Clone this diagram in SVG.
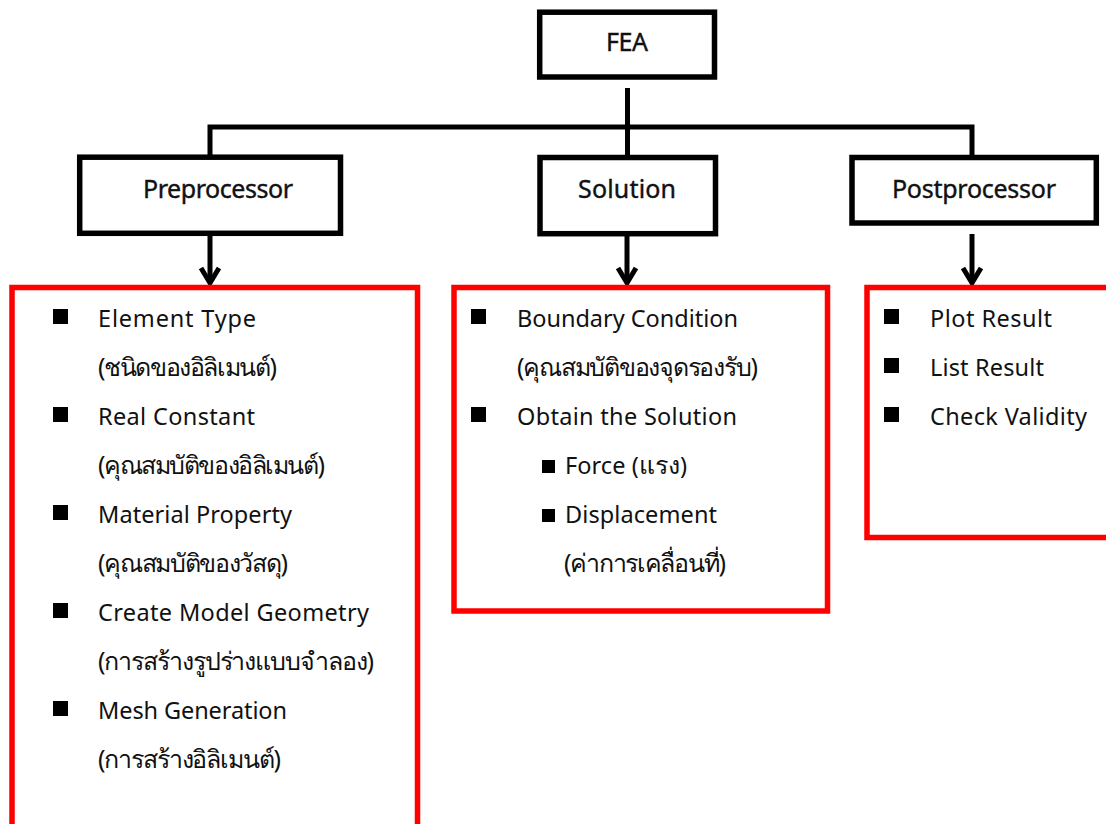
<svg xmlns="http://www.w3.org/2000/svg" width="1106" height="824" viewBox="0 0 1106 824">
<style>
.box{fill:#fff;stroke:#000;stroke-width:5.5}
.red{fill:none;stroke:#f00;stroke-width:5.5}
.hd{font-family:"Noto Sans","Liberation Sans",sans-serif;font-size:25px;fill:#111;stroke:#111;stroke-width:0.4}
.t{font-family:"Noto Sans","Liberation Sans",sans-serif;font-size:23.5px;fill:#111}
.th{font-size:25px}
.b{fill:#000}
.ln{fill:none;stroke:#000;stroke-width:5}
</style>
<defs>
<marker id="arr" markerUnits="userSpaceOnUse" orient="auto" markerWidth="30" markerHeight="30" refX="0" refY="0" viewBox="-20 -15 30 30" overflow="visible">
<path d="M-15,-9 L0,0 L-15,9" fill="none" stroke="#000" stroke-width="5"/>
</marker>
</defs>
<g id="connectors">
<path class="ln" d="M627.5,88 V157"/>
<path class="ln" d="M210,157 V127 H972 V157"/>
<path class="ln" d="M210,236 V283" marker-end="url(#arr)"/>
<path class="ln" d="M627,236 V283" marker-end="url(#arr)"/>
<path class="ln" d="M972,234 V283" marker-end="url(#arr)"/>
</g>
<g id="fea">
<rect class="box" x="539.7" y="12.2" width="174.8" height="64.8"/>
<text class="hd" x="606" y="51" textLength="42">FEA</text>
</g>
<g id="preprocessor">
<rect class="box" x="79.7" y="157.2" width="260.8" height="76.1"/>
<text class="hd" x="143" y="198" textLength="150">Preprocessor</text>
</g>
<g id="solution">
<rect class="box" x="540" y="157.5" width="175.5" height="76.2"/>
<text class="hd" x="578" y="198" textLength="98">Solution</text>
</g>
<g id="postprocessor">
<rect class="box" x="852" y="157.5" width="244.3" height="65.5"/>
<text class="hd" x="892" y="198" textLength="164">Postprocessor</text>
</g>
<g id="pre-list">
<rect class="red" x="12" y="287.5" width="405.5" height="560"/>
<rect class="b" x="53" y="309" width="15" height="15"/>
<rect class="b" x="53" y="407" width="15" height="15"/>
<rect class="b" x="53" y="505" width="15" height="15"/>
<rect class="b" x="53" y="603" width="15" height="15"/>
<rect class="b" x="53" y="701" width="15" height="15"/>
<text class="t" x="98" y="327" textLength="158">Element Type</text>
<text class="t th" x="98" y="376" textLength="179">(ชนิดของอิลิเมนต์)</text>
<text class="t" x="98" y="425" textLength="157">Real Constant</text>
<text class="t th" x="98" y="474" textLength="227">(คุณสมบัติของอิลิเมนต์)</text>
<text class="t" x="98" y="523" textLength="194">Material Property</text>
<text class="t th" x="98" y="572" textLength="190">(คุณสมบัติของวัสดุ)</text>
<text class="t" x="98" y="621" textLength="271">Create Model Geometry</text>
<text class="t th" x="98" y="670" textLength="276">(การสร้างรูปร่างแบบจำลอง)</text>
<text class="t" x="98" y="719" textLength="189">Mesh Generation</text>
<text class="t th" x="98" y="768" textLength="183">(การสร้างอิลิเมนต์)</text>
</g>
<g id="solution-list">
<rect class="red" x="454" y="287.5" width="373.5" height="323.5"/>
<rect class="b" x="471" y="309" width="15" height="15"/>
<rect class="b" x="471" y="407" width="15" height="15"/>
<rect class="b" x="542" y="460" width="13" height="13"/>
<rect class="b" x="542" y="509" width="13" height="13"/>
<text class="t" x="517" y="327" textLength="221">Boundary Condition</text>
<text class="t th" x="517" y="376" textLength="241">(คุณสมบัติของจุดรองรับ)</text>
<text class="t" x="517" y="425" textLength="220">Obtain the Solution</text>
<text class="t" x="565" y="474" textLength="122">Force (<tspan font-size="25">แรง</tspan>)</text>
<text class="t" x="565" y="523" textLength="152">Displacement</text>
<text class="t th" x="564" y="572" textLength="162">(ค่าการเคลื่อนที่)</text>
</g>
<g id="post-list">
<rect class="red" x="867" y="287.5" width="300" height="250"/>
<rect class="b" x="884" y="309" width="15" height="15"/>
<rect class="b" x="884" y="358" width="15" height="15"/>
<rect class="b" x="884" y="407" width="15" height="15"/>
<text class="t" x="930" y="327" textLength="122">Plot Result</text>
<text class="t" x="930" y="376" textLength="114">List Result</text>
<text class="t" x="930" y="425" textLength="157">Check Validity</text>
</g>
</svg>
